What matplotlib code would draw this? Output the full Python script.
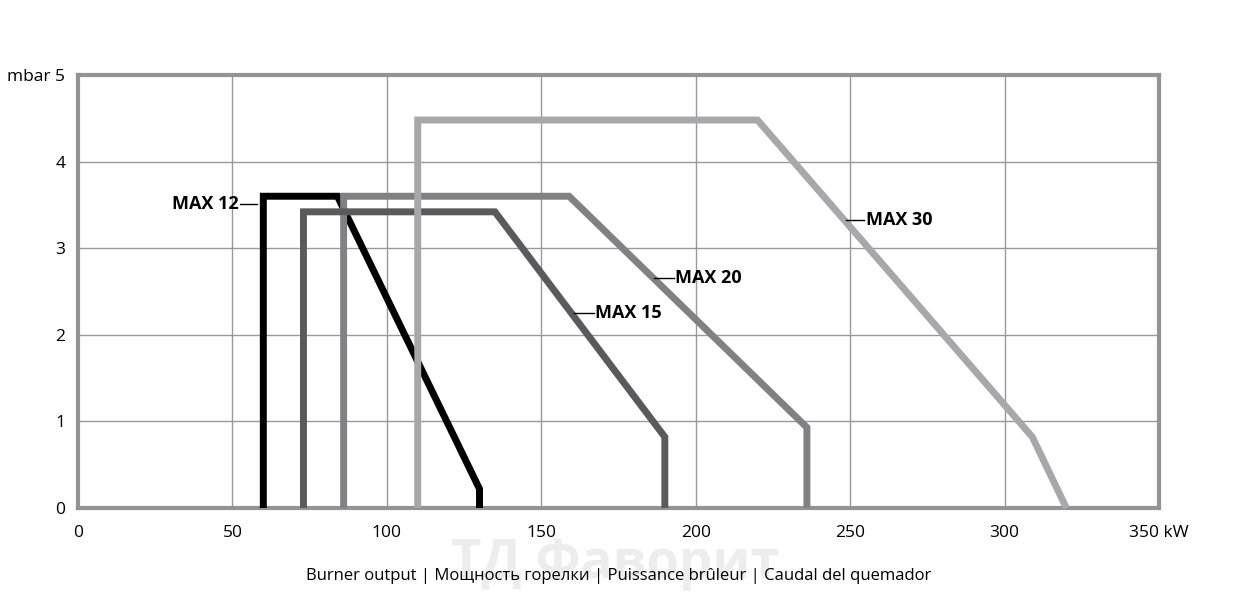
import matplotlib.pyplot as plt
import numpy as np

plt.rcParams['font.family'] = ['Open Sans', 'DejaVu Sans']

# burner working fields (kW, mbar)
max12_x = [60, 60, 84, 130, 130]
max12_y = [0, 3.6, 3.6, 0.22, 0]
max15_x = [73, 73, 135, 190, 190]
max15_y = [0, 3.42, 3.42, 0.82, 0]
max20_x = [86, 86, 159, 236, 236]
max20_y = [0, 3.6, 3.6, 0.93, 0]
max30_x = [110, 110, 220, 309, 320]
max30_y = [0, 4.48, 4.48, 0.82, 0]

xticks = [0, 50, 100, 150, 200, 250, 300, 350]
xlabels = ['0', '50', '100', '150', '200', '250', '300', '350 kW']
yticks = [0, 1, 2, 3, 4, 5]
ylabels = ['0', '1', '2', '3', '4', 'mbar 5']

fig = plt.figure(figsize=(12.34, 5.98), dpi=100)
ax = fig.add_axes([78/1234, 1 - 508/598, (1159-78)/1234, (508-75)/598])

# watermark
fig.text(615/1234, 1 - 564/598, 'ТД Фаворит', fontsize=38, fontweight='bold',
         color='#ededed', ha='center', va='center', zorder=-10)

kw = dict(lw=5, solid_joinstyle='miter', solid_capstyle='butt', clip_on=False)
ax.plot(max12_x, max12_y, color='#000000', zorder=3, **kw)
ax.plot(max20_x, max20_y, color='#818183', zorder=4, **kw)
ax.plot(max15_x, max15_y, color='#5a5a5c', zorder=5, **kw)
ax.plot(max30_x, max30_y, color='#a8a8aa', zorder=6, **kw)

# labels with short leaders
lab = dict(fontsize=13, fontweight='bold', va='center', color='black')
ax.plot([58, 52.5], [3.51, 3.51], color='black', lw=1, zorder=7)
ax.text(52, 3.51, 'MAX 12', ha='right', **lab)
ax.plot([248.5, 254.5], [3.33, 3.33], color='black', lw=1, zorder=7)
ax.text(255, 3.33, 'MAX 30', ha='left', **lab)
ax.plot([186.5, 193], [2.66, 2.66], color='black', lw=1, zorder=7)
ax.text(193.3, 2.66, 'MAX 20', ha='left', **lab)
ax.plot([160.5, 167], [2.25, 2.25], color='black', lw=1, zorder=7)
ax.text(167.3, 2.25, 'MAX 15', ha='left', **lab)

ax.set_xlim(0, 350)
ax.set_ylim(0, 5)
ax.set_xticks(xticks)
ax.set_xticklabels(xlabels)
ax.set_yticks(yticks)
ax.set_yticklabels(ylabels)
ax.tick_params(length=0, labelsize=12.5, pad=9)
ax.tick_params(axis='x', pad=12)
ax.grid(True, color='#999999', lw=1)
ax.set_axisbelow(True)
for s in ax.spines.values():
    s.set_color('#939393')
    s.set_linewidth(3)

ax.set_xlabel('Burner output | Мощность горелки | Puissance brûleur | Caudal del quemador',
              fontsize=12, labelpad=20)

fig.savefig('out.png', dpi=100)
